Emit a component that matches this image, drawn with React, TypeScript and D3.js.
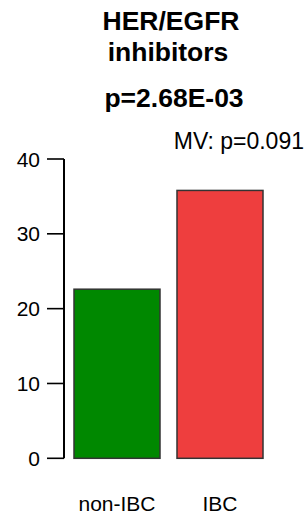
import React from 'react';
import * as d3 from 'd3';

const categories = ['non-IBC', 'IBC'];
const values = [22.6, 35.8];
const barColors = ['#008800', '#ee3e3e'];
const yTicks = [0, 10, 20, 30, 40];
const titleLines = ['HER/EGFR', 'inhibitors'];
const pLabel = 'p=2.68E-03';
const mvLabel = 'MV: p=0.091';

const width = 304;
const height = 516;
const font = '"Liberation Sans", Arial, sans-serif';

const App = () => {
  const y = d3.scaleLinear().domain([0, 40]).range([458.3, 159]);
  const x = d3.scaleBand().domain(categories).range([74, 263]).paddingInner(0.165).paddingOuter(0);
  const axisX = 64;

  return (
    <svg
      width={width}
      height={height}
      style={{ position: 'absolute', left: 0, top: 0, background: '#fff' }}
      fontFamily={font}
    >
      {/* titles */}
      <text x={171} y={30} textAnchor="middle" fontWeight="bold" fontSize={26.5}>{titleLines[0]}</text>
      <text x={168} y={61} textAnchor="middle" fontWeight="bold" fontSize={26.5}>{titleLines[1]}</text>
      <text x={174} y={107} textAnchor="middle" fontWeight="bold" fontSize={26.5}>{pLabel}</text>
      <text x={304} y={149} textAnchor="end" fontSize={23}>{mvLabel}</text>

      {/* bars */}
      {categories.map((c, i) => (
        <rect
          key={c}
          x={x(c)}
          y={y(values[i])}
          width={x.bandwidth()}
          height={y(0) - y(values[i])}
          fill={barColors[i]}
          stroke="#333"
          strokeWidth={1.5}
        />
      ))}

      {/* y axis */}
      <line x1={axisX} x2={axisX} y1={y(40)} y2={y(0)} stroke="#000" strokeWidth={2} />
      {yTicks.map((t) => (
        <g key={t}>
          <line x1={47} x2={axisX} y1={y(t)} y2={y(t)} stroke="#000" strokeWidth={1.6} />
          <text x={40} y={y(t)} dy="0.36em" textAnchor="end" fontSize={21}>{t}</text>
        </g>
      ))}

      {/* category labels */}
      {categories.map((c) => (
        <text key={c} x={(x(c) ?? 0) + x.bandwidth() / 2} y={511} textAnchor="middle" fontSize={21}>{c}</text>
      ))}
    </svg>
  );
};

export default App;
